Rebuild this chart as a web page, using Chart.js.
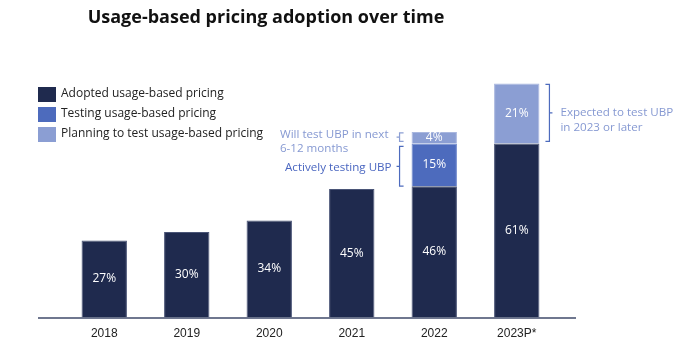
<!DOCTYPE html>
<html>
<head>
<meta charset="utf-8">
<script src="https://cdn.jsdelivr.net/npm/chart.js@4"></script>
<style>
  html, body { margin: 0; padding: 0; background: #fff; }
  #wrap { width: 690px; height: 345px; }
</style>
</head>
<body>
<div id="wrap"><canvas id="chart__ubp"></canvas></div>
<script>
const years = ['2018', '2019', '2020', '2021', '2022', '2023P*'];
const adopted = [27, 30, 34, 45, 46, 61];
const testing = [null, null, null, null, 15, null];
const planning = [null, null, null, null, 4, 21];
const seriesNames = ['Adopted usage-based pricing', 'Testing usage-based pricing', 'Planning to test usage-based pricing'];
const chartTitle = 'Usage-based pricing adoption over time';
const notePlanning = ['Will test UBP in next', '6-12 months'];
const noteTesting = ['Actively testing UBP'];
const noteFuture = ['Expected to test UBP', 'in 2023 or later'];

const FONT = "'Open Sans', sans-serif";
const colors = ['#1f2a4e', '#4d6bbd', '#8b9ed3'];
const edges = ['#4a5577', '#6f88cc', '#a9b7df'];

// white % labels in each segment
const valueLabels = {
    id: 'valueLabels',
    afterDatasetsDraw(chart) {
        const ctx = chart.ctx;
        ctx.save();
        ctx.fillStyle = '#fff';
        ctx.font = '12px ' + FONT;
        ctx.textAlign = 'center';
        ctx.textBaseline = 'middle';
        chart.data.datasets.forEach((ds, i) => {
            chart.getDatasetMeta(i).data.forEach((bar, j) => {
                const v = ds.data[j];
                if (v == null) return;
                const p = bar.getProps(['x', 'y', 'base'], true);
                ctx.fillText(v + '%', p.x, (p.y + p.base) / 2);
            });
        });
        ctx.restore();
    }
};

function brace(ctx, x, top, bottom, dir) {
    // dir = 1: ticks point right ("{"), dir = -1: ticks point left ("}")
    const mid = (top + bottom) / 2;
    ctx.beginPath();
    ctx.moveTo(x + 4 * dir, top);
    ctx.lineTo(x, top);
    ctx.lineTo(x, bottom);
    ctx.lineTo(x + 4 * dir, bottom);
    ctx.moveTo(x, mid);
    ctx.lineTo(x - 3 * dir, mid);
    ctx.stroke();
}

function noteText(ctx, lines, x, midY, color, alignRight) {
    ctx.fillStyle = color;
    ctx.font = '11.6px ' + FONT;
    ctx.textBaseline = 'middle';
    ctx.textAlign = 'left';
    const lh = 14.5;
    const w = Math.max(...lines.map(l => ctx.measureText(l).width));
    const x0 = alignRight ? x - w : x;
    const y0 = midY - (lines.length - 1) * lh / 2;
    lines.forEach((l, k) => ctx.fillText(l, x0, y0 + k * lh));
}

const extras = {
    id: 'extras',
    afterDraw(chart) {
        const ctx = chart.ctx;
        const area = chart.chartArea;
        ctx.save();

        // title, sitting left of centre as in the slide
        ctx.fillStyle = '#111';
        ctx.font = 'bold 18px ' + FONT;
        ctx.textAlign = 'center';
        ctx.textBaseline = 'middle';
        ctx.fillText(chartTitle, 266, 18);

        // baseline running past the bars
        ctx.strokeStyle = '#3f4a6a';
        ctx.lineWidth = 1.5;
        ctx.beginPath();
        ctx.moveTo(38, area.bottom + 0.5);
        ctx.lineTo(576, area.bottom + 0.5);
        ctx.stroke();

        // legend
        seriesNames.forEach((name, i) => {
            const cy = 94 + i * 20;
            ctx.fillStyle = colors[i];
            ctx.fillRect(38, cy - 7, 18, 15);
            ctx.fillStyle = '#222';
            ctx.font = '12px ' + FONT;
            ctx.textAlign = 'left';
            ctx.textBaseline = 'middle';
            ctx.fillText(name, 61, cy);
        });

        // brackets next to the 2022 and 2023 bars
        ctx.lineWidth = 1.2;
        const b22p = chart.getDatasetMeta(2).data[4].getProps(['x', 'y', 'base', 'width'], true);
        const b22t = chart.getDatasetMeta(1).data[4].getProps(['x', 'y', 'base', 'width'], true);
        const b23p = chart.getDatasetMeta(2).data[5].getProps(['x', 'y', 'base', 'width'], true);

        let bx = b22p.x - b22p.width / 2 - 12;
        ctx.strokeStyle = colors[2];
        brace(ctx, bx, b22p.y + 1, b22p.base - 2, 1);
        noteText(ctx, notePlanning, bx - 11, (b22p.y + b22p.base) / 2 + 4, '#8699d2', true);

        ctx.strokeStyle = colors[1];
        brace(ctx, bx, b22t.y + 3, b22t.base, 1);
        noteText(ctx, noteTesting, bx - 8, (b22t.y + b22t.base) / 2 + 3, '#4a66c0', true);

        bx = b23p.x + b23p.width / 2 + 10;
        ctx.strokeStyle = colors[1];
        brace(ctx, bx, b23p.y + 1, b23p.base - 2, -1);
        noteText(ctx, noteFuture, bx + 11, (b23p.y + b23p.base) / 2 + 7, '#8699d2', false);

        ctx.restore();
    }
};

new Chart(document.getElementById('chart__ubp'), {
    type: 'bar',
    data: {
        labels: years,
        datasets: [
            { label: seriesNames[0], data: adopted, backgroundColor: colors[0], borderColor: edges[0], borderWidth: 1 },
            { label: seriesNames[1], data: testing, backgroundColor: colors[1], borderColor: edges[1], borderWidth: 1 },
            { label: seriesNames[2], data: planning, backgroundColor: colors[2], borderColor: edges[2], borderWidth: 1 }
        ]
    },
    options: {
        responsive: true,
        maintainAspectRatio: false,
        animation: false,
        layout: { padding: { left: 63, right: 132, top: 32, bottom: -5 } },
        datasets: { bar: { barPercentage: 0.55, categoryPercentage: 1 } },
        plugins: {
            legend: { display: false },
            tooltip: { enabled: false },
            title: { display: false }
        },
        scales: {
            x: {
                stacked: true,
                grid: { display: false, drawTicks: false },
                border: { display: false },
                ticks: { color: '#222', font: { family: "'Liberation Sans', Arial, sans-serif", size: 12 }, padding: 9 }
            },
            y: {
                stacked: true,
                display: false,
                min: 0,
                max: 100
            }
        }
    },
    plugins: [valueLabels, extras]
});
</script>
</body>
</html>
